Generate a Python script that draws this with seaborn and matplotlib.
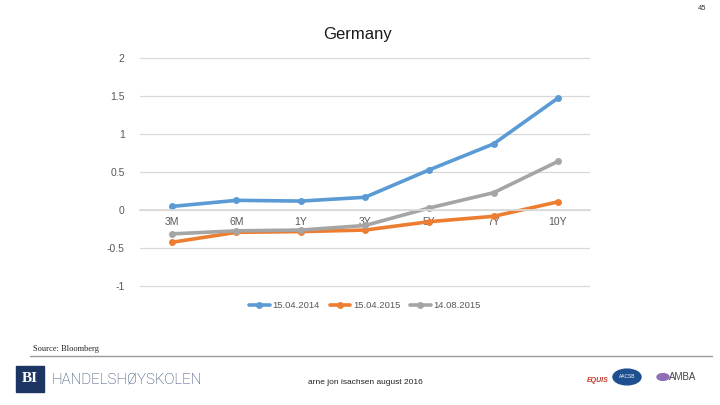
import matplotlib
matplotlib.use("Agg")
import matplotlib.pyplot as plt
import seaborn as sns
import pandas as pd
from matplotlib.patches import Rectangle, Circle

tenors = ["3M", "6M", "1Y", "3Y", "5Y", "7Y", "10Y"]
s2014 = [0.05, 0.13, 0.12, 0.17, 0.53, 0.87, 1.47]
s2015a = [-0.42, -0.29, -0.28, -0.26, -0.15, -0.08, 0.11]
s2015b = [-0.31, -0.27, -0.26, -0.20, 0.03, 0.23, 0.64]
series_names = ["15.04.2014", "15.04.2015", "14.08.2015"]
colors = ["#5B9BD5", "#ED7D31", "#A5A5A5"]
yticks = [-1, -0.5, 0, 0.5, 1, 1.5, 2]
ytick_labels = ["-1", "-0.5", "0", "0.5", "1", "1.5", "2"]

rows = []
for name, vals in zip(series_names, [s2014, s2015a, s2015b]):
    for i, (t, v) in enumerate(zip(tenors, vals)):
        rows.append({"pos": i, "tenor": t, "value": v, "series": name})
df = pd.DataFrame(rows)

sns.set_theme(style="white")
plt.rcParams["font.family"] = ["Liberation Sans", "DejaVu Sans"]

fig = plt.figure(figsize=(7.2, 4.05), dpi=100)
ax = fig.add_axes([140 / 720, (405 - 288) / 405, 450 / 720, 231 / 405])

sns.lineplot(data=df, x="pos", y="value", hue="series", hue_order=series_names,
             palette=colors, marker="o", markersize=5, markeredgewidth=0,
             linewidth=2.6, ax=ax, sort=False)

ax.set_xlim(-0.5, 6.5)
ax.set_ylim(-1.02, 2.01)
ax.set_yticks(yticks)
ax.set_yticklabels(ytick_labels)
ax.set_xticks(range(len(tenors)))
ax.set_xticklabels(tenors)
ax.yaxis.grid(True, color="#D9D9D9", linewidth=0.9)
ax.set_axisbelow(True)
for s in ["top", "right", "left"]:
    ax.spines[s].set_visible(False)
ax.spines["bottom"].set_position(("data", 0))
ax.spines["bottom"].set_color("#D9D9D9")
ax.tick_params(axis="both", length=0, labelsize=7.5, colors="#595959")
ax.tick_params(axis="x", pad=5)
ax.tick_params(axis="y", pad=11)
ax.set_xlabel("")
ax.set_ylabel("")

leg = ax.legend(loc="upper center", bbox_to_anchor=(0.5, -0.02), ncol=3,
                frameon=False, fontsize=6.8, handlelength=2.2, columnspacing=1.0,
                handletextpad=0.3)
for t in leg.get_texts():
    t.set_color("#595959")

fig.text(357 / 720, 1 - 35 / 405, "Germany", ha="center", va="center",
         fontsize=12, color="#1a1a1a")
fig.text(706 / 720, 1 - 8 / 405, "45", ha="right", va="center", fontsize=5.5,
         color="#333333")
fig.text(33 / 720, 1 - 349 / 405, "Source: Bloomberg", ha="left", va="center",
         fontsize=6, family=["Liberation Serif", "DejaVu Serif"], color="#222222")
fig.add_artist(plt.Line2D([30 / 720, 712 / 720], [1 - 356 / 405, 1 - 356 / 405],
                          color="#9a9a9a", linewidth=1))

# footer
fig.add_artist(Rectangle((16 / 720, 1 - 392 / 405), 28 / 720, 26 / 405,
                         color="#1d3563", transform=fig.transFigure))
fig.text(30 / 720, 1 - 379 / 405, "BI", ha="center", va="center", fontsize=11,
         weight="bold", color="white", family=["Liberation Serif", "DejaVu Serif"])
fig.text(52 / 720, 1 - 380 / 405, "HANDELSHØYSKOLEN", ha="left", va="center",
         fontsize=10.8, weight="light", color="#1d3563",
         family=["Roboto", "Liberation Sans", "DejaVu Sans"])
fig.text(365 / 720, 1 - 382 / 405, "arne jon isachsen august 2016", ha="center",
         va="center", fontsize=6, color="#222222")
fig.text(598 / 720, 1 - 381 / 405, "EQUIS", ha="center", va="center", fontsize=5,
         weight="bold", style="italic", color="#c0392b")
fig.add_artist(Circle((627 / 720, 1 - 377 / 405), 14 / 720, color="#1d4f91",
                      transform=fig.transFigure))
fig.text(627 / 720, 1 - 377 / 405, "AACSB", ha="center", va="center", fontsize=3.5,
         color="white")
fig.text(683 / 720, 1 - 377 / 405, "AMBA", ha="center", va="center", fontsize=7,
         color="#444444")
fig.add_artist(Circle((663 / 720, 1 - 377 / 405), 6 / 720, color="#8e6fb5",
                      transform=fig.transFigure))

fig.savefig("out.png", dpi=100)
